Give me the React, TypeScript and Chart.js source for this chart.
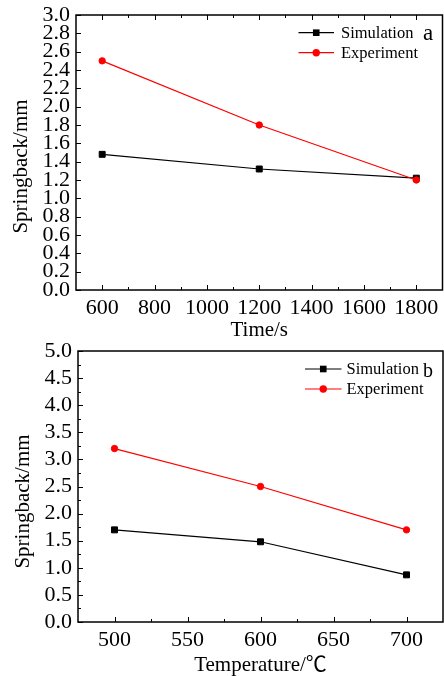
import React, { useEffect, useRef } from "react";
import { Chart, registerables } from "chart.js";
Chart.register(...registerables);

const FONT = "'Liberation Serif', 'Times New Roman', 'Noto Sans CJK SC', 'DejaVu Serif', serif";
const BLACK = "#000000";
const RED = "#ff0000";

// Panel a: springback vs time
const timeA = [600, 1200, 1800];
const simA = [1.48, 1.32, 1.22];
const expA = [2.5, 1.8, 1.2];
const xTicksA = [600, 800, 1000, 1200, 1400, 1600, 1800];

// Panel b: springback vs temperature
const tempB = [500, 600, 700];
const simB = [1.7, 1.48, 0.87];
const expB = [3.2, 2.5, 1.7];
const xTicksB = [500, 550, 600, 650, 700];

const seriesNames = ["Simulation", "Experiment"];

type Spec = {
  xs: number[];
  sim: number[];
  exp: number[];
  xMin: number;
  xMax: number;
  xTicks: number[];
  yMax: number;
  yStep: number;
  yMinor: boolean;
  topTicks: boolean;
  xTitle: string;
  yTitle: string;
  panel: string;
  panelFont: number;
  panelPos: [number, number];
  height: number;
  padTop: number;
  padRight: number;
  yWidth: number;
  plotBottom: number;
  xTickPad: number;
  yTitlePos: [number, number];
  legendLine: [number, number];
  legendY: [number, number];
  legendTextX: number;
};

const specA: Spec = {
  xs: timeA,
  sim: simA,
  exp: expA,
  xMin: 500,
  xMax: 1900,
  xTicks: xTicksA,
  yMax: 3,
  yStep: 0.2,
  yMinor: false,
  topTicks: true,
  xTitle: "Time/s",
  yTitle: "Springback/mm",
  panel: "a",
  panelFont: 23,
  panelPos: [423, 40],
  height: 341,
  padTop: 15,
  padRight: 1.5,
  yWidth: 76,
  plotBottom: 290,
  xTickPad: 5,
  yTitlePos: [21.5, 166.5],
  legendLine: [298.5, 334],
  legendY: [32.7, 52.7],
  legendTextX: 341,
};

const specB: Spec = {
  xs: tempB,
  sim: simB,
  exp: expB,
  xMin: 475,
  xMax: 725,
  xTicks: xTicksB,
  yMax: 5,
  yStep: 0.5,
  yMinor: true,
  topTicks: false,
  xTitle: "Temperature/\u2103",
  yTitle: "Springback/mm",
  panel: "b",
  panelFont: 20,
  panelPos: [423, 38.7],
  height: 338,
  padTop: 13,
  padRight: 1,
  yWidth: 78,
  plotBottom: 284,
  xTickPad: 5.5,
  yTitlePos: [23.3, 163.5],
  legendLine: [305, 341.5],
  legendY: [31, 51],
  legendTextX: 346.5,
};

function makeChart(canvas: HTMLCanvasElement, spec: Spec) {
  const decor = {
    id: "decor",
    afterDraw(chart: any) {
      const { ctx, chartArea } = chart;
      const { left, right, top, bottom } = chartArea;
      const x = chart.scales.x;
      const y = chart.scales.y;
      ctx.save();
      ctx.strokeStyle = BLACK;
      ctx.fillStyle = BLACK;
      ctx.lineWidth = 1;

      const xMaj = x.ticks.map((t: any) => t.value);
      const xMin: number[] = [];
      for (let i = 0; i < xMaj.length - 1; i++) xMin.push((xMaj[i] + xMaj[i + 1]) / 2);
      const yMaj = y.ticks.map((t: any) => t.value);
      const yMin: number[] = [];
      if (spec.yMinor) for (let i = 0; i < yMaj.length - 1; i++) yMin.push((yMaj[i] + yMaj[i + 1]) / 2);

      const vTick = (v: number, len: number) => {
        const px = Math.round(x.getPixelForValue(v)) + 0.5;
        ctx.beginPath();
        ctx.moveTo(px, bottom);
        ctx.lineTo(px, bottom - len);
        if (spec.topTicks) {
          ctx.moveTo(px, top);
          ctx.lineTo(px, top + len);
        }
        ctx.stroke();
      };
      xMaj.forEach((v: number) => vTick(v, 5));
      xMin.forEach((v: number) => vTick(v, 3));

      const hTick = (v: number, len: number) => {
        const py = Math.round(y.getPixelForValue(v)) + 0.5;
        ctx.beginPath();
        ctx.moveTo(left, py);
        ctx.lineTo(left + len, py);
        ctx.stroke();
      };
      yMaj.forEach((v: number) => hTick(v, 5));
      yMin.forEach((v: number) => hTick(v, 3));

      // frame
      ctx.lineWidth = 1.5;
      ctx.strokeRect(left, top, right - left, bottom - top);

      // y title
      ctx.save();
      ctx.translate(spec.yTitlePos[0], spec.yTitlePos[1]);
      ctx.rotate(-Math.PI / 2);
      ctx.font = `21px ${FONT}`;
      ctx.textAlign = "center";
      ctx.textBaseline = "middle";
      ctx.fillText(spec.yTitle, 0, 0);
      ctx.restore();

      // legend
      const styles = [
        { color: BLACK, shape: "rect" },
        { color: RED, shape: "circle" },
      ];
      styles.forEach((s, i) => {
        const ly = spec.legendY[i];
        ctx.strokeStyle = s.color;
        ctx.fillStyle = s.color;
        ctx.lineWidth = 1.2;
        ctx.beginPath();
        ctx.moveTo(spec.legendLine[0], ly);
        ctx.lineTo(spec.legendLine[1], ly);
        ctx.stroke();
        const cx = (spec.legendLine[0] + spec.legendLine[1]) / 2;
        if (s.shape === "rect") {
          ctx.fillRect(cx - 3.3, ly - 3.3, 6.6, 6.6);
        } else {
          ctx.beginPath();
          ctx.arc(cx, ly, 3.7, 0, Math.PI * 2);
          ctx.fill();
        }
        ctx.fillStyle = BLACK;
        ctx.font = `16.5px ${FONT}`;
        ctx.textAlign = "left";
        ctx.textBaseline = "middle";
        ctx.fillText(seriesNames[i], spec.legendTextX, ly + 0.5);
      });

      // panel label
      ctx.fillStyle = BLACK;
      ctx.font = `${spec.panelFont}px ${FONT}`;
      ctx.textAlign = "left";
      ctx.textBaseline = "alphabetic";
      ctx.fillText(spec.panel, spec.panelPos[0], spec.panelPos[1]);
      ctx.restore();
    },
  };

  return new Chart(canvas, {
    type: "line",
    data: {
      datasets: [
        {
          label: seriesNames[1],
          data: spec.xs.map((v, i) => ({ x: v, y: spec.exp[i] })),
          borderColor: RED,
          backgroundColor: RED,
          pointBackgroundColor: RED,
          pointBorderColor: RED,
          pointStyle: "circle",
          pointRadius: 3.2,
          pointBorderWidth: 1,
          borderWidth: 1.2,
          tension: 0,
          fill: false,
          order: 0,
        },
        {
          label: seriesNames[0],
          data: spec.xs.map((v, i) => ({ x: v, y: spec.sim[i] })),
          borderColor: BLACK,
          backgroundColor: BLACK,
          pointBackgroundColor: BLACK,
          pointBorderColor: BLACK,
          pointStyle: "rect",
          pointRadius: 4.2,
          pointBorderWidth: 1,
          borderWidth: 1.2,
          tension: 0,
          fill: false,
          order: 1,
        },
      ],
    },
    options: {
      animation: false,
      responsive: false,
      devicePixelRatio: 1,
      layout: {
        autoPadding: false,
        padding: { top: spec.padTop, right: spec.padRight, left: 0, bottom: 0 },
      },
      plugins: { legend: { display: false }, tooltip: { enabled: false } },
      scales: {
        x: {
          type: "linear",
          min: spec.xMin,
          max: spec.xMax,
          afterBuildTicks: (s: any) => {
            s.ticks = spec.xTicks.map((v) => ({ value: v }));
          },
          afterFit: (s: any) => {
            s.height = spec.height - spec.plotBottom;
            s.paddingLeft = 0;
            s.paddingRight = 0;
            s.paddingTop = 0;
            s.paddingBottom = 0;
          },
          grid: { display: false, drawTicks: false },
          border: { display: false },
          ticks: {
            font: { family: FONT, size: 22 },
            color: BLACK,
            padding: spec.xTickPad,
            autoSkip: false,
            maxRotation: 0,
            minRotation: 0,
            callback: (v: any) => String(v),
          },
          title: {
            display: true,
            text: spec.xTitle,
            color: BLACK,
            font: { family: FONT, size: 21, lineHeight: 1 },
            padding: { top: 0, bottom: 0.5 },
          },
        },
        y: {
          type: "linear",
          min: 0,
          max: spec.yMax,
          afterFit: (s: any) => {
            s.width = spec.yWidth;
            s.paddingLeft = 0;
            s.paddingRight = 0;
            s.paddingTop = 0;
            s.paddingBottom = 0;
          },
          grid: { display: false, drawTicks: false },
          border: { display: false },
          ticks: {
            stepSize: spec.yStep,
            font: { family: FONT, size: 22 },
            color: BLACK,
            padding: 6,
            autoSkip: false,
            callback: (v: any) => Number(v).toFixed(1),
          },
        },
      },
    } as any,
    plugins: [decor],
  });
}

export default function App() {
  const refA = useRef<HTMLCanvasElement>(null);
  const refB = useRef<HTMLCanvasElement>(null);
  useEffect(() => {
    const a = makeChart(refA.current as HTMLCanvasElement, specA);
    const b = makeChart(refB.current as HTMLCanvasElement, specB);
    return () => {
      a.destroy();
      b.destroy();
    };
  }, []);
  return (
    <div style={{ position: "absolute", left: 0, top: 0, width: 444, height: 676, background: "#ffffff" }}>
      <canvas
        ref={refA}
        width={444}
        height={specA.height}
        style={{ position: "absolute", left: 0, top: 0, width: 444, height: specA.height }}
      />
      <canvas
        ref={refB}
        width={444}
        height={specB.height}
        style={{ position: "absolute", left: 0, top: 338, width: 444, height: specB.height }}
      />
    </div>
  );
}
